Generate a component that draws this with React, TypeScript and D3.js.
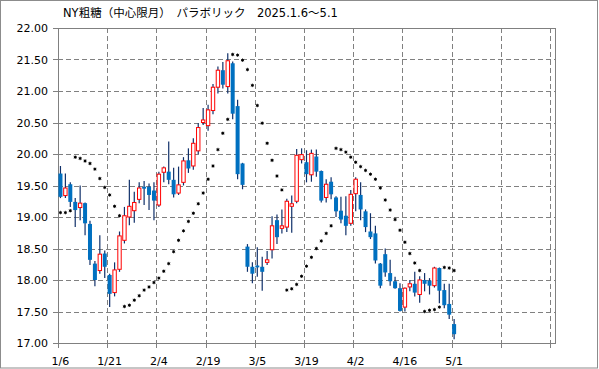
import React from "react";
import * as d3 from "d3";

const title = "NY粗糖（中心限月）　パラボリック　2025.1.6～5.1";
const tickLabels = ["1/6", "1/21", "2/4", "2/19", "3/5", "3/19", "4/2", "4/16", "5/1"];
const yTicks = [17, 17.5, 18, 18.5, 19, 19.5, 20, 20.5, 21, 21.5, 22];

const open = [
  19.69, 19.34, 19.52, 19.24, 19.15, 19.22, 18.89, 18.26, 18.15, 18.42,
  18.08, 17.8, 18.17, 18.63, 19.0, 19.1, 19.28, 19.48, 19.48, 19.42,
  19.19, 19.71, 19.72, 19.59, 19.38, 19.55, 19.9, 19.81, 20.05, 20.5,
  20.45, 20.69, 21.06, 21.33, 21.07, 21.44, 20.76, 19.85, 18.53, 18.21,
  18.23, 18.21, 18.28, 18.48, 18.95, 18.82, 18.84, 19.17, 19.25, 19.91,
  19.87, 19.67, 19.96, 19.73, 19.31, 19.56, 19.31, 19.1, 19.02, 18.9,
  19.37, 19.35, 19.09, 18.77, 18.74, 18.26, 18.41, 18.11, 17.98, 17.87,
  17.57, 17.89, 17.94, 17.77, 18.0, 17.99, 17.91, 18.19, 17.84, 17.62,
  17.3,
];
const high = [
  19.81, 19.69, 19.55, 19.3, 19.5, 19.23, 18.94, 18.3, 18.71, 18.47,
  18.1, 18.28, 18.77, 19.16, 19.59, 19.4, 19.55, 19.57, 19.53, 19.55,
  19.72, 19.8, 20.2, 19.78, 19.8, 19.95, 20.09, 20.25, 20.49, 20.73,
  20.78, 21.11, 21.39, 21.46, 21.6, 21.47, 20.86, 19.86, 18.57, 18.28,
  18.52, 18.37, 18.46, 19.01, 19.04, 19.12, 19.29, 19.34, 20.08, 20.09,
  20.06, 20.07, 20.07, 19.74, 19.6, 19.63, 19.33, 19.32, 19.33, 19.43,
  19.63, 19.55, 19.12, 19.06, 18.86, 18.27, 18.5, 18.32, 18.05, 17.95,
  17.88, 18.0, 18.13, 18.06, 18.11, 18.03, 18.21, 18.2, 17.94, 17.94,
  17.38,
];
const low = [
  19.3, 19.3, 19.16, 18.84, 18.95, 18.71, 18.24, 17.9, 18.1, 18.03,
  17.57, 17.74, 18.13, 18.58, 18.87, 18.91, 19.22, 19.19, 19.11, 18.95,
  19.16, 19.55, 19.52, 19.31, 19.35, 19.5, 19.7, 19.75, 20.0, 20.46,
  20.37, 20.63, 20.96, 21.04, 20.96, 20.55, 19.6, 19.44, 18.13, 17.95,
  18.05, 17.83, 18.24, 18.34, 18.57, 18.74, 18.76, 18.75, 19.22, 19.85,
  19.55, 19.56, 19.64, 19.23, 19.23, 19.28, 19.0, 18.9, 18.71, 18.86,
  19.09, 18.95, 18.76, 18.65, 18.26, 17.87, 18.05, 17.91, 17.86, 17.5,
  17.5, 17.82, 17.74, 17.64, 17.82, 17.77, 17.88, 17.63, 17.55, 17.38,
  17.06,
];
const close = [
  19.32, 19.46, 19.24, 19.11, 19.22, 18.9, 18.32, 18.0, 18.41, 18.21,
  17.78, 18.16, 18.7, 19.02, 19.17, 19.23, 19.46, 19.45, 19.35, 19.26,
  19.68, 19.78, 19.59, 19.36, 19.51, 19.89, 19.77, 20.17, 20.42, 20.54,
  20.7, 21.06, 21.33, 21.1, 21.48, 20.64, 19.68, 19.51, 18.21, 18.1,
  18.2, 18.13, 18.32, 18.86, 18.68, 18.86, 19.25, 19.21, 19.98, 19.99,
  19.68, 20.01, 19.72, 19.26, 19.52, 19.36, 19.09, 18.96, 18.86, 19.36,
  19.6, 19.12, 18.84, 18.68, 18.31, 17.91, 18.12, 17.98, 17.87, 17.51,
  17.87, 17.94, 17.8, 18.0, 17.94, 17.91, 18.19, 17.83, 17.6, 17.45,
  17.14,
];
const sar = [
  19.07, 19.07, 19.1, 19.95, 19.93, 19.89, 19.85, 19.76, 19.61, 19.47,
  19.35, 19.17, 19.02, 17.58, 17.6, 17.68, 17.75, 17.84, 17.89, 17.96,
  18.03, 18.14, 18.26, 18.45, 18.63, 18.78, 18.93, 19.06, 19.21, 19.38,
  19.6, 19.81, 20.07, 20.33, 20.55, 21.58, 21.57, 21.49, 21.34, 21.09,
  20.77, 20.49, 20.17, 19.9, 19.65, 19.43, 17.84, 17.86, 17.93, 18.06,
  18.22, 18.36, 18.5, 18.62, 18.74, 18.86, 20.09, 20.07, 20.03, 19.95,
  19.87, 19.8, 19.74, 19.68, 19.6, 19.46, 19.27, 19.11, 18.96, 18.79,
  18.6, 18.42, 18.27, 18.15, 17.5, 17.52, 17.53, 17.57, 18.2, 18.19,
  18.15,
];

const W = 599;
const H = 369;
const left = 58;
const right = 555;
const top = 28;
const bottom = 343;

export default function App() {
  const x = d3.scaleLinear().domain([0, 101]).range([left, right]);
  const y = d3.scaleLinear().domain([17, 22]).range([bottom, top]);
  const fmt = d3.format(".2f");
  const px = (v: number) => Math.round(v) + 0.5;
  const bw = 3.4;
  const grid = d3.range(10, 101, 10);
  const textFont = "'DejaVu Sans', 'Noto Sans CJK JP', sans-serif";
  const star = d3.symbol().type(d3.symbolAsterisk).size(9);

  return (
    <svg width={W} height={H} style={{ position: "absolute", left: 0, top: 0, background: "#fff" }}>
      <rect x={0.5} y={0.5} width={W - 2} height={H - 1.5} fill="#fff" stroke="#8c8c8c" />
      <text x={63} y={17} fontSize={11.5} fontFamily={textFont} fill="#000">{title}</text>

      {/* grid */}
      {yTicks.slice(1, -1).map((t) => (
        <line key={"gy" + t} x1={left} x2={right} y1={px(y(t))} y2={px(y(t))} stroke="#808080" strokeDasharray="5,3" />
      ))}
      {grid.map((k) => (
        <line key={"gx" + k} x1={px(x(k))} x2={px(x(k))} y1={top} y2={bottom} stroke="#808080" strokeDasharray="5,3" />
      ))}
      <rect x={px(left)} y={px(top)} width={Math.round(right - left)} height={Math.round(bottom - top)} fill="none" stroke="#808080" />

      {/* y axis */}
      {yTicks.map((t) => (
        <g key={"yt" + t}>
          <line x1={left - 5} x2={left} y1={px(y(t))} y2={px(y(t))} stroke="#808080" />
          <text x={48} y={y(t) + 4} textAnchor="end" fontSize={11} fontFamily={textFont} fill="#000">{fmt(t)}</text>
        </g>
      ))}
      {/* x axis */}
      {d3.range(0, 101, 10).map((k) => (
        <line key={"xt" + k} x1={px(x(k))} x2={px(x(k))} y1={bottom} y2={bottom + 5} stroke="#808080" />
      ))}
      {tickLabels.map((lab, j) => (
        <text key={lab} x={x(j * 10 + 0.5)} y={365} textAnchor="middle" fontSize={11} fontFamily={textFont} fill="#000">{lab}</text>
      ))}

      {/* candles */}
      {open.map((o, i) => {
        const c = close[i];
        const cx = x(i + 0.5);
        const up = c >= o;
        const yt = y(Math.max(o, c));
        const yb = y(Math.min(o, c));
        return (
          <g key={"c" + i}>
            <line x1={cx} x2={cx} y1={y(high[i])} y2={y(low[i])} stroke="#10306a" strokeWidth={1.2} />
            {up ? (
              <rect x={cx - bw / 2} y={yt} width={bw} height={Math.max(yb - yt, 1.5)} fill="#fff" stroke="#ff0000" strokeWidth={1} />
            ) : (
              <rect x={cx - bw / 2 - 0.3} y={yt} width={bw + 0.6} height={Math.max(yb - yt, 1.5)} fill="#0070c0" />
            )}
          </g>
        );
      })}

      {/* parabolic SAR */}
      {sar.map((s, i) => (
        <g key={"s" + i} transform={`translate(${x(i + 0.5)},${y(s)})`}>
          <circle r={1.2} fill="#000" />
          <path d={star() || ""} fill="none" stroke="#000" strokeWidth={0.7} />
        </g>
      ))}
    </svg>
  );
}
